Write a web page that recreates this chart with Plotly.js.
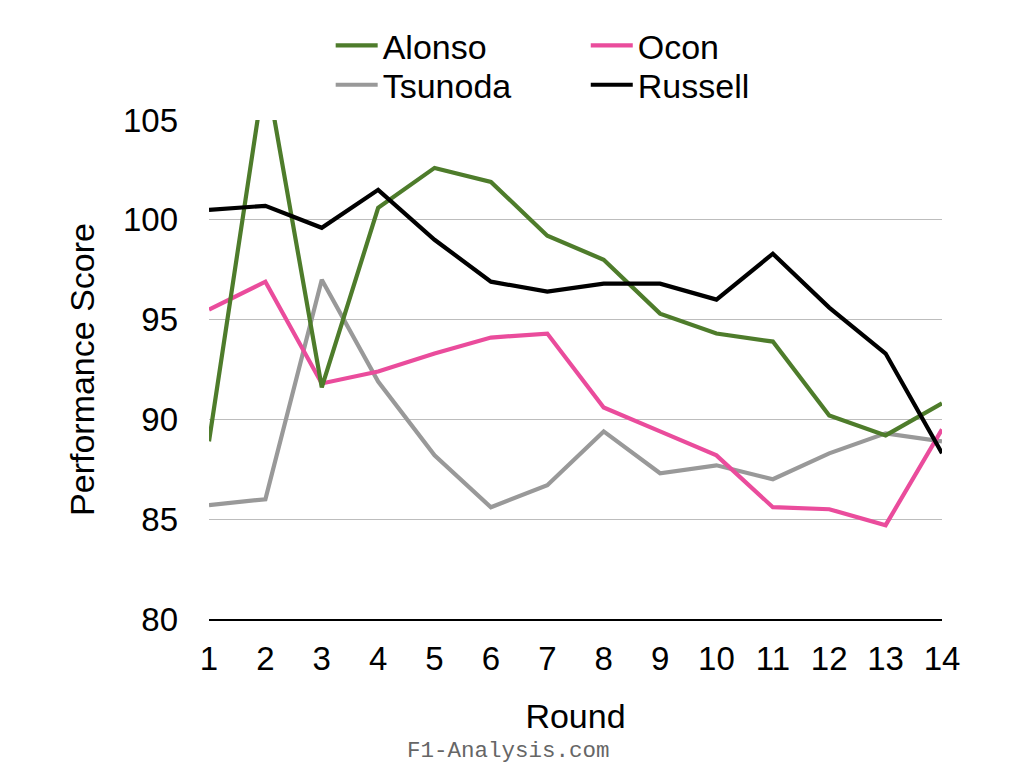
<!DOCTYPE html>
<html>
<head>
<meta charset="utf-8">
<script src="https://cdn.plot.ly/plotly-3.0.1.min.js"></script>
<style>
  body { margin: 0; background: #fff; }
  #chart { width: 1024px; height: 782px; }
</style>
</head>
<body>
<div id="chart"></div>
<script>
// Driver performance scores per round
var rounds = [1, 2, 3, 4, 5, 6, 7, 8, 9, 10, 11, 12, 13, 14];

var alonso  = [88.9, 107.6, 91.6, 100.6, 102.6, 101.9, 99.2, 98.0, 95.3, 94.3, 93.9, 90.2, 89.2, 90.8];
var ocon    = [95.5, 96.9, 91.8, 92.4, 93.3, 94.1, 94.3, 90.6, 89.4, 88.2, 85.6, 85.5, 84.7, 89.5];
var tsunoda = [85.7, 86.0, 97.0, 91.9, 88.2, 85.6, 86.7, 89.4, 87.3, 87.7, 87.0, 88.3, 89.3, 88.9];
var russell = [100.5, 100.7, 99.6, 101.5, 99.0, 96.9, 96.4, 96.8, 96.8, 96.0, 98.3, 95.6, 93.3, 88.3];

var yTicks = [80, 85, 90, 95, 100, 105];

var font = 'Liberation Sans, Arial, Helvetica, sans-serif';

function line(name, values, color, legendId) {
  return {
    x: rounds,
    y: values,
    name: name,
    mode: 'lines',
    line: { color: color, width: 4.2 },
    legend: legendId,
    hoverinfo: 'x+y+name'
  };
}

// one legend per entry so the 2x2 grid sits where the original has it
function legendAt(x, y) {
  return {
    x: x,
    xanchor: 'left',
    y: y,
    yanchor: 'top',
    itemwidth: 42,
    bgcolor: 'rgba(0,0,0,0)',
    font: { family: font, size: 34, color: '#000000' }
  };
}

var data = [
  line('Tsunoda', tsunoda, '#999999', 'legend2'),
  line('Ocon', ocon, '#ea4c9c', 'legend3'),
  line('Alonso', alonso, '#4e7c2b', 'legend'),
  line('Russell', russell, '#000000', 'legend4')
];

var layout = {
  width: 1024,
  height: 782,
  margin: { l: 209, r: 82, t: 119.5, b: 162.5 },
  paper_bgcolor: '#ffffff',
  plot_bgcolor: '#ffffff',
  font: { family: font, size: 33, color: '#000000' },
  showlegend: true,
  legend: legendAt(0.166, 1.207),
  legend2: legendAt(0.166, 1.128),
  legend3: legendAt(0.514, 1.207),
  legend4: legendAt(0.514, 1.128),
  xaxis: {
    range: [1, 14],
    tickvals: rounds,
    ticktext: rounds.map(String),
    showgrid: false,
    zeroline: false,
    showline: true,
    linecolor: '#000000',
    linewidth: 2,
    ticks: '',
    ticklabelstandoff: 9,
    tickfont: { family: font, size: 33, color: '#000000' },
    title: { text: 'Round', font: { family: font, size: 34 }, standoff: 29 },
    fixedrange: true
  },
  yaxis: {
    range: [80, 105],
    tickvals: yTicks,
    ticktext: yTicks.map(String),
    showgrid: true,
    gridcolor: '#bdbdbd',
    gridwidth: 1,
    zeroline: false,
    showline: false,
    ticks: '',
    ticklabelstandoff: 30,
    tickfont: { family: font, size: 33, color: '#000000' },
    title: { text: 'Performance Score', font: { family: font, size: 34 }, standoff: 18 },
    fixedrange: true
  },
  annotations: [{
    text: 'F1-Analysis.com',
    xref: 'paper',
    yref: 'paper',
    x: 0.409,
    y: -0.2645,
    xanchor: 'center',
    yanchor: 'middle',
    showarrow: false,
    font: { family: 'Liberation Mono, DejaVu Sans Mono, monospace', size: 22.5, color: '#666666' }
  }]
};

Plotly.newPlot('chart', data, layout, { displayModeBar: false, staticPlot: true });
</script>
</body>
</html>
